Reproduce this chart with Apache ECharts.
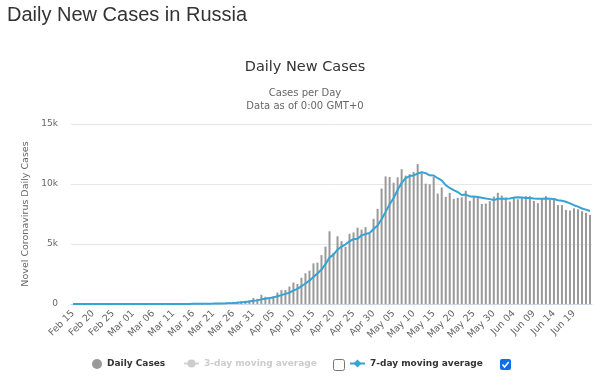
<!DOCTYPE html>
<html><head><meta charset="utf-8">
<script src="https://cdn.jsdelivr.net/npm/echarts@6/dist/echarts.min.js"></script>
<style>html,body{margin:0;padding:0;background:#fff}#c{width:600px;height:390px}</style>
</head><body><div id="c"></div>
<script>
const categories = [
"Feb 15","Feb 16","Feb 17","Feb 18","Feb 19","Feb 20","Feb 21","Feb 22","Feb 23","Feb 24","Feb 25","Feb 26","Feb 27","Feb 28","Feb 29",
"Mar 01","Mar 02","Mar 03","Mar 04","Mar 05","Mar 06","Mar 07","Mar 08","Mar 09","Mar 10","Mar 11","Mar 12","Mar 13","Mar 14","Mar 15","Mar 16","Mar 17","Mar 18","Mar 19","Mar 20","Mar 21","Mar 22","Mar 23","Mar 24","Mar 25","Mar 26","Mar 27","Mar 28","Mar 29","Mar 30","Mar 31",
"Apr 01","Apr 02","Apr 03","Apr 04","Apr 05","Apr 06","Apr 07","Apr 08","Apr 09","Apr 10","Apr 11","Apr 12","Apr 13","Apr 14","Apr 15","Apr 16","Apr 17","Apr 18","Apr 19","Apr 20","Apr 21","Apr 22","Apr 23","Apr 24","Apr 25","Apr 26","Apr 27","Apr 28","Apr 29","Apr 30",
"May 01","May 02","May 03","May 04","May 05","May 06","May 07","May 08","May 09","May 10","May 11","May 12","May 13","May 14","May 15","May 16","May 17","May 18","May 19","May 20","May 21","May 22","May 23","May 24","May 25","May 26","May 27","May 28","May 29","May 30","May 31",
"Jun 01","Jun 02","Jun 03","Jun 04","Jun 05","Jun 06","Jun 07","Jun 08","Jun 09","Jun 10","Jun 11","Jun 12","Jun 13","Jun 14","Jun 15","Jun 16","Jun 17","Jun 18","Jun 19","Jun 20","Jun 21","Jun 22","Jun 23"
];
const dailyCases = [
0,0,0,0,0,0,0,0,0,0,0,0,0,0,0,
0,1,0,0,1,6,4,3,0,3,8,6,11,14,4,30,21,33,52,54,53,61,71,57,163,182,196,228,270,302,500,
440,771,601,582,658,954,1154,1175,1459,1786,1667,2186,2558,2774,3388,3448,4070,4785,6060,4268,5642,5236,4774,5849,5966,6361,6198,6411,5841,7099,
7933,9623,10633,10581,10102,10559,11231,10699,10817,11012,11656,10899,10028,9974,10598,9200,9709,8926,9263,8764,8849,8894,9434,8599,8946,8915,8338,8371,8572,8952,9268,
9035,8863,8536,8831,8726,8855,8984,8985,8595,8404,8779,8987,8706,8835,8246,8248,7843,7790,7972,7889,7728,7600,7425
];
const movingAvg7 = [
0,0,0,0,0,0,0,0,0,0,0,0,0,0,0,
0,0.1,0.1,0.1,0.3,1.1,1.7,2.1,2,2.4,3.6,4.3,5,6.4,6.6,10.9,13.4,17,23.6,29.7,35.3,43.4,49.3,54.4,73,91.6,111.9,136.9,166.7,199.7,263,
302.6,386.7,444.6,495.1,550.6,643.7,737.1,842.1,940.4,1109.7,1264.7,1483,1712.1,1943.6,2259.7,2543.9,2870.1,3315.6,3869,4113.3,4523,4787,4976.4,5230.6,5399.3,5442.3,5718,5827.9,5914.3,6246.4,
6544.1,7066.6,7676.9,8303,8830.3,9504.3,10094.6,10489.7,10660.3,10714.4,10868,10981.9,10906,10726.4,10712,10481,10294.9,9904.9,9671.1,9490.6,9329.9,9086.4,9119.9,8961.3,8964.1,8914.4,8853.6,8785.3,8739.3,8670.4,8766,
8778.7,8771.3,8799.6,8865.3,8887.3,8873.4,8832.9,8825.7,8787.4,8768.6,8761.1,8798.4,8777.1,8755.9,8650.3,8600.7,8520.6,8379.3,8234.3,8117.6,7959.4,7867.1,7749.6
];
const movingAvg3 = []; // hidden series (unchecked in legend)
const seriesNames = ["Daily Cases", "3-day moving average", "7-day moving average"];
const yMax = 15000, yStep = 5000;

const FONT = "DejaVu Sans";
const chart = echarts.init(document.getElementById('c'), null, {renderer: 'canvas'});
chart.setOption({
  animation: false,
  backgroundColor: '#fff',
  title: [
    {text: 'Daily New Cases in Russia', left: 7, top: 5, padding: 0,
     textStyle: {fontFamily: 'Liberation Sans', fontSize: 20, fontWeight: 'normal', color: '#333'}},
    {text: 'Daily New Cases', left: 305, top: 60, padding: 0, textAlign: 'center',
     textStyle: {fontFamily: FONT, fontSize: 14.5, fontWeight: 'normal', color: '#333'}},
    {text: 'Cases per Day\nData as of 0:00 GMT+0', left: 305, top: 87, padding: 0,
     textAlign: 'center',
     textStyle: {fontFamily: FONT, fontSize: 10, fontWeight: 'normal', color: '#666', lineHeight: 13, align: 'center'}}
  ],
  grid: {left: 71, right: 8, top: 124, bottom: 86, containLabel: false},
  xAxis: {
    type: 'category', data: categories, boundaryGap: true,
    axisLine: {lineStyle: {color: '#ccd6eb'}},
    axisTick: {show: false},
    axisLabel: {interval: 4, rotate: 45, color: '#666', fontSize: 9.5, fontFamily: FONT, margin: 8}
  },
  yAxis: {
    type: 'value', min: 0, max: yMax, interval: yStep,
    name: 'Novel Coronavirus Daily Cases', nameLocation: 'middle', nameGap: 40,
    nameTextStyle: {color: '#666', fontSize: 9.5, fontFamily: FONT},
    axisLine: {show: false}, axisTick: {show: false},
    axisLabel: {color: '#666', fontSize: 9, fontFamily: FONT, margin: 13,
      formatter: v => v === 0 ? '0' : (v / 1000) + 'k'},
    splitLine: {lineStyle: {color: '#e6e6e6'}}
  },
  legend: [
    {data: [{name: seriesNames[0], icon: 'circle'}], left: 92, top: 359, padding: 0, itemWidth: 10, itemHeight: 10,
     textStyle: {fontFamily: FONT, fontSize: 9, fontWeight: 'bold', color: '#333'}},
    {data: [seriesNames[1]], left: 183, top: 359, padding: 0, itemWidth: 15, itemHeight: 10,
     selected: {"3-day moving average": false}, inactiveColor: '#ccc',
     textStyle: {fontFamily: FONT, fontSize: 9, fontWeight: 'bold', color: '#333'}},
    {data: [seriesNames[2]], left: 349, top: 359, padding: 0, itemWidth: 15, itemHeight: 10,
     textStyle: {fontFamily: FONT, fontSize: 9, fontWeight: 'bold', color: '#333'}}
  ],
  series: [
    {name: seriesNames[0], type: 'bar', data: dailyCases, barWidth: 2,
     itemStyle: {color: '#999999'}},
    {name: seriesNames[1], type: 'line', data: movingAvg3, symbol: 'circle', showSymbol: false,
     itemStyle: {color: '#999999'}, lineStyle: {color: '#999999', width: 2}},
    {name: seriesNames[2], type: 'line', data: movingAvg7, symbol: 'diamond', showSymbol: false,
     itemStyle: {color: '#35a3d3'}, lineStyle: {color: '#35a3d3', width: 2}}
  ],
  graphic: [
    {type: 'rect', left: 333, top: 359, shape: {width: 11, height: 11, r: 2},
     style: {fill: '#fff', stroke: '#767676', lineWidth: 1}},
    {type: 'group', left: 500, top: 359, children: [
      {type: 'rect', shape: {x: 0, y: 0, width: 11, height: 11, r: 2}, style: {fill: '#0b6fe8'}},
      {type: 'polyline', shape: {points: [[2.5, 5.5], [4.5, 8], [8.7, 3]]},
       style: {stroke: '#fff', lineWidth: 1.6, fill: null}}
    ]}
  ]
});
</script></body></html>
